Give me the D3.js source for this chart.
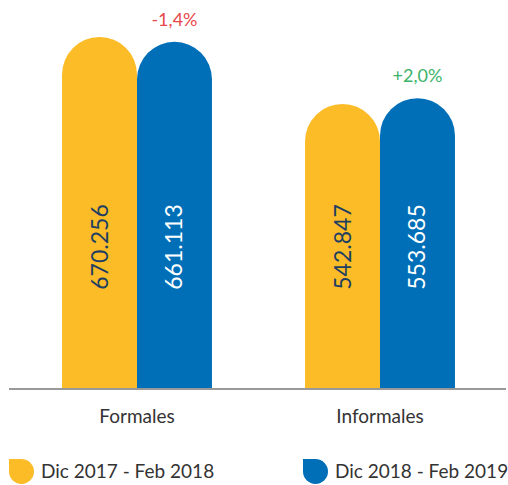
<!DOCTYPE html>
<html>
<head>
<meta charset="utf-8">
<script src="https://cdn.jsdelivr.net/npm/d3@7"></script>
<style>
  body { margin: 0; background: #fff; }
  svg { display: block; font-family: Lato, "Open Sans", sans-serif; }
</style>
</head>
<body>
<div id="chart"></div>
<script>
const categories = ["Formales", "Informales"];
const seriesNames = ["Dic 2017 - Feb 2018", "Dic 2018 - Feb 2019"];
const values2018 = [670256, 542847];
const values2019 = [661113, 553685];
const changeLabels = ["-1,4%", "+2,0%"];

const width = 508, height = 485;
const baseY = 389;
const colors = ["#FBBC27", "#006FB8"];
const labelColors = ["#1E3F62", "#ffffff"];
const changeColors = ["#E8474B", "#3CB36A"];

const svg = d3.select("#chart").append("svg")
  .attr("width", width)
  .attr("height", height);

const x0 = d3.scaleBand()
  .domain(categories)
  .range([15.5, 501.5])
  .paddingInner(0.383)
  .paddingOuter(0.1915);

const x1 = d3.scaleBand()
  .domain(seriesNames)
  .range([0, x0.bandwidth()]);

const y = d3.scaleLinear()
  .domain([0, 700000])
  .range([baseY, 21.4]);

const fmt = v => d3.format(",")(v).replace(/,/g, ".");

const data = categories.map((c, i) => ({
  cat: c,
  vals: [values2018[i], values2019[i]],
  change: changeLabels[i],
  up: changeLabels[i][0] === "+"
}));

function barPath(x, w, top) {
  const r = w / 2;
  return `M${x},${baseY}L${x},${top + r}A${r},${r} 0 0 1 ${x + w},${top + r}L${x + w},${baseY}Z`;
}

const groups = svg.selectAll("g.group")
  .data(data)
  .join("g")
  .attr("class", "group")
  .attr("transform", d => `translate(${x0(d.cat)},0)`);

groups.each(function (d) {
  const g = d3.select(this);
  d.vals.forEach((v, j) => {
    const bx = x1(seriesNames[j]);
    const bw = x1.bandwidth();
    g.append("path")
      .attr("d", barPath(bx, bw, y(v)))
      .attr("fill", colors[j]);
    g.append("text")
      .attr("transform", `translate(${bx + bw / 2 + 8},247) rotate(-90)`)
      .attr("text-anchor", "middle")
      .attr("fill", labelColors[j])
      .style("font-size", "23px")
      .text(fmt(v));
  });
  g.append("text")
    .attr("x", x1(seriesNames[1]) + x1.bandwidth() / 2)
    .attr("y", y(d.vals[1]) - 16)
    .attr("text-anchor", "middle")
    .attr("fill", d.up ? changeColors[1] : changeColors[0])
    .style("font-size", "18px")
    .text(d.change);
});

svg.append("line")
  .attr("x1", 9).attr("x2", 506)
  .attr("y1", baseY).attr("y2", baseY)
  .attr("stroke", "#999")
  .attr("stroke-width", 2);

svg.selectAll("text.cat")
  .data(categories)
  .join("text")
  .attr("class", "cat")
  .attr("x", d => x0(d) + x0.bandwidth() / 2)
  .attr("y", 423)
  .attr("text-anchor", "middle")
  .attr("fill", "#333")
  .style("font-size", "19px")
  .text(d => d);

// legend
const legend = svg.selectAll("g.legend")
  .data(seriesNames)
  .join("g")
  .attr("class", "legend")
  .attr("transform", (d, i) => `translate(${i === 0 ? 9 : 303},459)`);

const s = 25, r = 12.5;
legend.append("path")
  .attr("d", `M0,0L${s - r},0A${r},${r} 0 0 1 ${s},${r}A${r},${r} 0 0 1 ${r},${s}A${r},${r} 0 0 1 0,${r}Z`)
  .attr("fill", (d, i) => colors[i]);

legend.append("text")
  .attr("x", 32)
  .attr("y", 19)
  .attr("fill", "#333")
  .style("font-size", "19px")
  .text(d => d);
</script>
</body>
</html>
